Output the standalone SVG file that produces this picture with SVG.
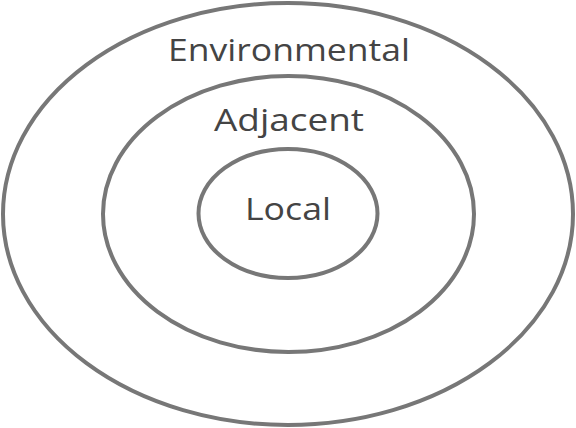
<svg xmlns="http://www.w3.org/2000/svg" width="576" height="428" viewBox="0 0 576 428">
<style>
.ring{fill:none;stroke:#777777;stroke-width:4}
.lbl{font-family:"Open Sans","Liberation Sans",sans-serif;font-size:31px;fill:#444444;text-anchor:middle}
</style>
<rect width="576" height="428" fill="#ffffff"/>
<g id="environmental">
<ellipse class="ring" cx="288" cy="214" rx="285" ry="211"/>
<text class="lbl" x="289" y="61" textLength="242" lengthAdjust="spacingAndGlyphs">Environmental</text>
</g>
<g id="adjacent">
<ellipse class="ring" cx="288.5" cy="214" rx="185.5" ry="138"/>
<text class="lbl" x="289" y="131" textLength="150" lengthAdjust="spacingAndGlyphs">Adjacent</text>
</g>
<g id="local">
<ellipse class="ring" cx="288" cy="213.5" rx="89.5" ry="64.5"/>
<text class="lbl" x="288" y="220" textLength="86" lengthAdjust="spacingAndGlyphs">Local</text>
</g>
<g id="connectors"></g>
</svg>
